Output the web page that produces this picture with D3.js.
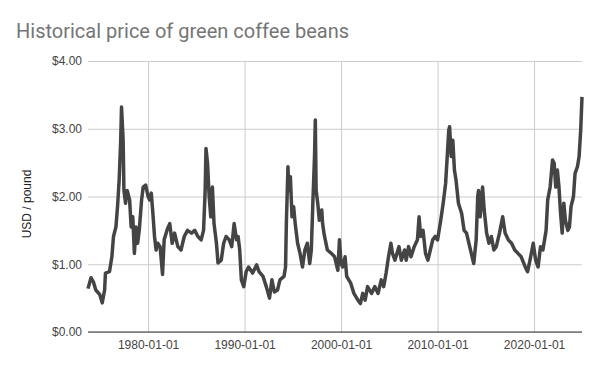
<!DOCTYPE html>
<html>
<head>
<meta charset="utf-8">
<script src="https://cdn.jsdelivr.net/npm/d3@7"></script>
<style>
  html, body { margin: 0; padding: 0; background: #fff; }
  svg { display: block; font-family: Roboto, "Noto Sans", sans-serif; }
</style>
</head>
<body>
<svg id="chart" width="600" height="371"></svg>
<script>
const chartTitle = "Historical price of green coffee beans";
const yAxisTitle = "USD / pound";
const yTicks = [0, 1, 2, 3, 4];
const xTickDates = ["1980-01-01", "1990-01-01", "2000-01-01", "2010-01-01", "2020-01-01"];

const dates = [
  "1973-10-10","1974-02","1974-05","1974-08","1975-01","1975-04","1975-07","1975-08","1976-01","1976-04",
  "1976-06","1976-09","1976-11","1977-01","1977-03","1977-04","1977-06","1977-07","1977-09","1977-11",
  "1978-02","1978-04","1978-06","1978-08","1978-10","1978-12","1979-02","1979-05","1979-07","1979-10",
  "1980-01","1980-03","1980-05","1980-07","1980-09","1980-11","1981-01","1981-04","1981-07","1981-09",
  "1982-01","1982-04","1982-07","1982-10","1983-02","1983-06","1983-10","1984-02","1984-07","1984-11",
  "1985-03","1985-07","1985-10","1985-12","1986-01","1986-03","1986-05","1986-07","1986-09","1986-11",
  "1987-02","1987-04","1987-08","1987-11","1988-02","1988-06","1988-09","1988-12","1989-03","1989-05",
  "1989-07","1989-09","1989-12","1990-03","1990-06","1990-11","1991-04","1991-07","1991-12","1992-04",
  "1992-08","1992-11","1993-02","1993-06","1993-09","1994-02","1994-04","1994-05","1994-07","1994-08",
  "1994-10","1994-12","1995-02","1995-04","1995-07","1995-10","1996-01","1996-04","1996-07","1996-10",
  "1996-12","1997-02","1997-04","1997-05","1997-06","1997-08","1997-10","1998-01","1998-02","1998-04",
  "1998-08","1999-01","1999-05","1999-09","1999-11","2000-01","2000-03","2000-06","2000-08","2001-01",
  "2001-05","2001-10","2002-01","2002-04","2002-07","2002-10","2003-03","2003-07","2003-11","2004-03",
  "2004-06","2004-09","2004-12","2005-03","2005-05","2005-08","2006-01","2006-04","2006-08","2006-10",
  "2007-01","2007-04","2007-08","2007-12","2008-02","2008-04","2008-07","2008-10","2009-01","2009-04",
  "2009-07","2009-10","2010-01","2010-05","2010-08","2010-11","2011-01","2011-03","2011-04","2011-06",
  "2011-08","2011-10","2011-12","2012-03","2012-07","2012-10","2013-01","2013-04","2013-07","2013-10",
  "2014-01","2014-03","2014-04","2014-06","2014-09","2014-11","2015-02","2015-05","2015-08","2015-11",
  "2016-02","2016-06","2016-10","2017-01","2017-05","2017-09","2018-01","2018-05","2018-09","2019-02",
  "2019-05","2019-08","2019-12","2020-03","2020-06","2020-09","2020-12","2021-04","2021-06","2021-09",
  "2021-12","2022-02","2022-04","2022-06","2022-08","2022-10","2022-12","2023-02","2023-04","2023-07",
  "2023-09","2023-11","2024-02","2024-04","2024-07","2024-09","2024-11","2024-12-20"
];
const prices = [
  0.64,0.80,0.74,0.62,0.55,0.43,0.62,0.87,0.89,1.11,
  1.41,1.55,1.85,2.24,2.83,3.32,2.83,2.09,1.90,2.09,
  1.95,1.55,1.70,1.16,1.55,1.31,1.50,1.95,2.14,2.17,
  2.00,1.95,2.05,1.75,1.41,1.21,1.31,1.26,0.85,1.36,
  1.52,1.60,1.31,1.46,1.26,1.21,1.41,1.50,1.46,1.50,
  1.41,1.36,1.50,2.09,2.71,2.49,2.00,1.70,2.14,1.60,
  1.31,1.02,1.06,1.31,1.41,1.36,1.26,1.60,1.36,1.41,
  1.21,0.77,0.67,0.89,0.96,0.87,0.99,0.89,0.82,0.67,
  0.50,0.77,0.59,0.62,0.77,0.82,0.96,1.60,2.44,2.09,
  2.29,1.70,1.85,1.60,1.31,1.16,0.96,1.21,1.31,1.01,
  1.21,1.95,2.59,3.13,2.09,1.90,1.65,1.80,1.60,1.44,
  1.21,1.16,1.11,0.91,1.36,1.01,0.96,1.11,0.82,0.72,
  0.57,0.47,0.42,0.57,0.47,0.67,0.57,0.67,0.57,0.77,
  0.67,0.87,1.11,1.31,1.16,1.06,1.26,1.06,1.21,1.06,
  1.26,1.11,1.26,1.36,1.70,1.41,1.50,1.16,1.06,1.21,
  1.36,1.41,1.36,1.65,1.90,2.19,2.59,2.98,3.03,2.59,
  2.83,2.39,2.24,1.90,1.75,1.50,1.46,1.31,1.16,1.01,
  1.36,2.00,2.09,1.70,2.14,1.80,1.46,1.31,1.41,1.21,
  1.26,1.46,1.70,1.46,1.36,1.31,1.21,1.16,1.11,0.96,
  0.89,1.06,1.31,1.06,0.96,1.26,1.21,1.50,1.95,2.14,
  2.54,2.49,2.14,2.39,2.14,1.75,1.46,1.90,1.65,1.50,
  1.55,1.85,2.00,2.34,2.44,2.59,2.98,3.47
];

const parseDate = s => (s.length > 7 ? d3.timeParse("%Y-%m-%d")(s) : d3.timeParse("%Y-%m")(s));
const data = dates.map((d, i) => ({ date: parseDate(d), value: prices[i] }));

const svg = d3.select("#chart");
const plot = { left: 88, right: 582, top: 61, bottom: 332 };
const labelFont = "'Liberation Sans', Arial, sans-serif";

svg.append("rect").attr("width", 600).attr("height", 371).attr("fill", "#fff");

const x = d3.scaleTime()
  .domain(d3.extent(data, d => d.date))
  .range([plot.left, plot.right]);
const y = d3.scaleLinear().domain([0, 4]).range([plot.bottom, plot.top]);

// horizontal gridlines + y labels
const yAxis = d3.axisLeft(y).tickValues(yTicks)
  .tickSize(-(plot.right - plot.left))
  .tickPadding(6)
  .tickFormat(d => "$" + d3.format(".2f")(d));
const gy = svg.append("g").attr("transform", `translate(${plot.left},0)`).call(yAxis);
gy.select(".domain").remove();
gy.selectAll(".tick line").attr("stroke", "#cccccc").attr("stroke-width", 1);
gy.selectAll(".tick text").attr("fill", "#444").attr("font-size", 12).attr("font-family", labelFont);

// vertical gridlines + x labels
const xAxis = d3.axisBottom(x).tickValues(xTickDates.map(s => d3.timeParse("%Y-%m-%d")(s)))
  .tickSize(-(plot.bottom - plot.top))
  .tickPadding(8)
  .tickFormat(d3.timeFormat("%Y-%m-%d"));
const gx = svg.append("g").attr("transform", `translate(0,${plot.bottom})`).call(xAxis);
gx.select(".domain").remove();
gx.selectAll(".tick line").attr("stroke", "#cccccc").attr("stroke-width", 1);
gx.selectAll(".tick text").attr("fill", "#444").attr("font-size", 12).attr("font-family", labelFont);

// baseline
svg.append("line")
  .attr("x1", plot.left).attr("x2", plot.right)
  .attr("y1", y(0)).attr("y2", y(0))
  .attr("stroke", "#333").attr("stroke-width", 1);

// series line
const line = d3.line().x(d => x(d.date)).y(d => y(d.value));
svg.append("path").datum(data)
  .attr("d", line)
  .attr("fill", "none")
  .attr("stroke", "#444")
  .attr("stroke-width", 3.5)
  .attr("stroke-linejoin", "round");

// title
svg.append("text")
  .attr("x", 16).attr("y", 38)
  .attr("fill", "#757575")
  .attr("font-size", 20)
  .attr("font-family", "Roboto")
  .text(chartTitle);

// y axis title
svg.append("text")
  .attr("transform", `translate(31,204) rotate(-90)`)
  .attr("text-anchor", "middle")
  .attr("fill", "#222")
  .attr("font-size", 12)
  .attr("font-family", labelFont)
  .text(yAxisTitle);
</script>
</body>
</html>
